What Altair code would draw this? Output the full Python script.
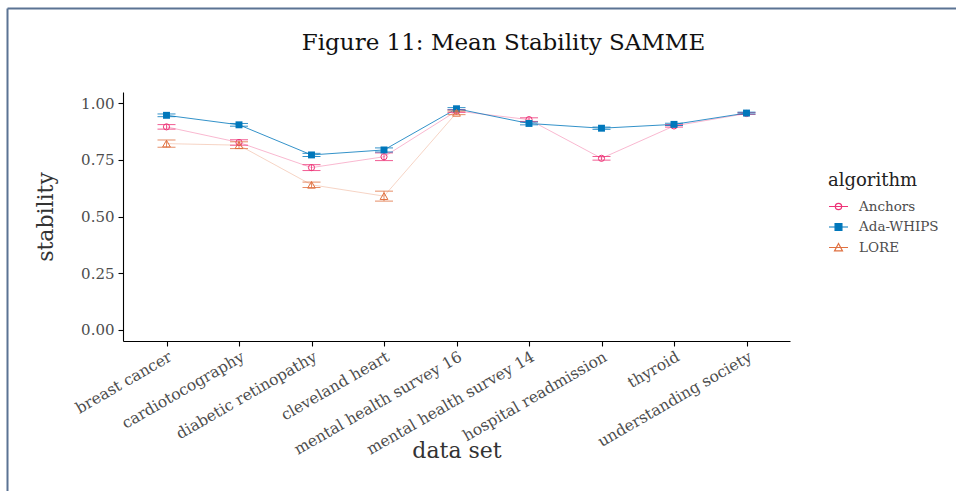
import altair as alt
import pandas as pd

datasets = ["breast cancer", "cardiotocography", "diabetic retinopathy", "cleveland heart",
            "mental health survey 16", "mental health survey 14", "hospital readmission",
            "thyroid", "understanding society"]
algorithms = ["Anchors", "Ada-WHIPS", "LORE"]

anchors_mean = [0.896, 0.827, 0.716, 0.764, 0.966, 0.928, 0.757, 0.900, 0.955]
anchors_err = [0.010, 0.012, 0.013, 0.017, 0.006, 0.008, 0.008, 0.005, 0.004]
ada_mean = [0.947, 0.905, 0.772, 0.794, 0.976, 0.911, 0.890, 0.907, 0.957]
ada_err = [0.006, 0.006, 0.007, 0.009, 0.005, 0.006, 0.005, 0.005, 0.004]
lore_datasets = datasets[:5]
lore_mean = [0.822, 0.815, 0.640, 0.590, 0.958]
lore_err = [0.016, 0.015, 0.012, 0.022, 0.008]

colors = ["#EE3377", "#0077BB", "#E07040"]
line_opacity = [0.35, 0.8, 0.3]
shapes = ["circle", "square", "triangle-up"]
point_filled = [False, True, False]
point_size = [38, 48, 60]
legend_paths = [
    "M-1,0L1,0M0.33,0A0.33,0.33,0,1,1,-0.33,0A0.33,0.33,0,1,1,0.33,0",
    "M-1,0L1,0M-0.36,-0.36L0.36,-0.36L0.36,0.36L-0.36,0.36Z",
    "M-1,0L1,0M0,-0.42L0.42,0.36L-0.42,0.36Z",
]
legend_fills = ["transparent", "#0077BB", "transparent"]

FONT = "DejaVu Serif"

series = [
    (datasets, anchors_mean, anchors_err),
    (datasets, ada_mean, ada_err),
    (lore_datasets, lore_mean, lore_err),
]

frames = []
for alg, (ds, m, e) in zip(algorithms, series):
    frames.append(pd.DataFrame({
        "dataset": ds,
        "algorithm": alg,
        "mean": m,
        "lo": [a - b for a, b in zip(m, e)],
        "hi": [a + b for a, b in zip(m, e)],
    }))
df_all = pd.concat(frames, ignore_index=True)

x_axis = alt.Axis(title="data set", labelAngle=-30, labelAlign="right", labelBaseline="top",
                  labelFontSize=15.5, titleFontSize=22, labelPadding=3, tickSize=5,
                  titleY=99, titleBaseline="top", labelFlush=False, labelLimit=0)
x_enc = alt.X("dataset:N", sort=datasets,
              scale=alt.Scale(type="point", domain=datasets, padding=0.6), axis=x_axis)
y_axis = alt.Axis(title="stability", values=[0, 0.25, 0.5, 0.75, 1.0], format=".2f",
                  labelFontSize=15, titleFontSize=22, tickSize=5, labelPadding=4,
                  titleX=-78, titleBaseline="middle", titleAlign="center")
y_scale = alt.Scale(domain=[-0.05, 1.05], nice=False, zero=False)

layers = []
for i, alg in enumerate(algorithms):
    base = alt.Chart(frames[i])
    c = colors[i]
    layers.append(base.mark_line(color=c, opacity=line_opacity[i], strokeWidth=1).encode(
        x=x_enc, y=alt.Y("mean:Q", scale=y_scale, axis=y_axis)))
for i, alg in enumerate(algorithms):
    base = alt.Chart(frames[i])
    c = colors[i]
    layers.append(base.mark_rule(color=c, strokeWidth=1, opacity=0.8).encode(
        x=x_enc, y=alt.Y("lo:Q", scale=y_scale, axis=y_axis), y2="hi:Q"))
    layers.append(base.mark_tick(color=c, orient="horizontal", size=18, thickness=1, opacity=0.8).encode(
        x=x_enc, y=alt.Y("lo:Q", scale=y_scale, axis=y_axis)))
    layers.append(base.mark_tick(color=c, orient="horizontal", size=18, thickness=1, opacity=0.8).encode(
        x=x_enc, y=alt.Y("hi:Q", scale=y_scale, axis=y_axis)))
    if point_filled[i]:
        pm = base.mark_point(shape=shapes[i], filled=True, color=c, size=point_size[i], opacity=1)
    else:
        pm = base.mark_point(shape=shapes[i], filled=False, color=c, size=point_size[i],
                             strokeWidth=1, opacity=1)
    layers.append(pm.encode(x=x_enc, y=alt.Y("mean:Q", scale=y_scale, axis=y_axis)))

legend = alt.Legend(title="algorithm", orient="none", legendX=705, legendY=80,
                    titleFont=FONT, titleFontSize=18, titleFontWeight="normal", titleColor="#222222",
                    labelFont=FONT, labelFontSize=13.5, labelColor="#4D4D4D",
                    symbolSize=361, symbolStrokeWidth=1.2, symbolOpacity=1, labelOffset=10,
                    rowPadding=3.5, titlePadding=6)
legend_layer = alt.Chart(df_all).mark_point(size=0, filled=False, opacity=1).encode(
    x=x_enc,
    y=alt.Y("mean:Q", scale=y_scale, axis=y_axis),
    stroke=alt.Stroke("algorithm:N", scale=alt.Scale(domain=algorithms, range=colors), legend=legend),
    shape=alt.Shape("algorithm:N", scale=alt.Scale(domain=algorithms, range=legend_paths), legend=legend),
    fill=alt.Fill("algorithm:N", scale=alt.Scale(domain=algorithms, range=legend_fills), legend=legend),
)
layers.append(legend_layer)

frame_df = pd.DataFrame({"k": [0]})
frame_top = alt.Chart(frame_df).mark_rule(color="#5B7393", strokeWidth=2).encode(
    x=alt.value(-115.5), x2=alt.value(840), y=alt.value(-83.5))
frame_left = alt.Chart(frame_df).mark_rule(color="#5B7393", strokeWidth=2).encode(
    x=alt.value(-115.5), y=alt.value(-83.5), y2=alt.value(400))
layers += [frame_top, frame_left]

chart = alt.layer(*layers).properties(
    width=667, height=249,
    title=alt.TitleParams("Figure 11: Mean Stability SAMME", font=FONT, fontSize=23,
                          fontWeight="normal", color="#111111", anchor="middle", dx=47,
                          offset=-65.5, baseline="alphabetic", frame="group"),
    autosize=alt.AutoSizeParams(type="none"),
    padding={"left": 123, "top": 92, "right": 166, "bottom": 150},
    background="white",
).configure_view(stroke=None).configure_axis(
    grid=False, domainColor="black", domainWidth=1.1, tickColor="black", tickWidth=1.1,
    labelFont=FONT, titleFont=FONT, labelColor="#4D4D4D", titleColor="#333333",
    titleFontWeight="normal",
)

chart.save("out.html", embed_options={"renderer": "svg", "actions": False})
